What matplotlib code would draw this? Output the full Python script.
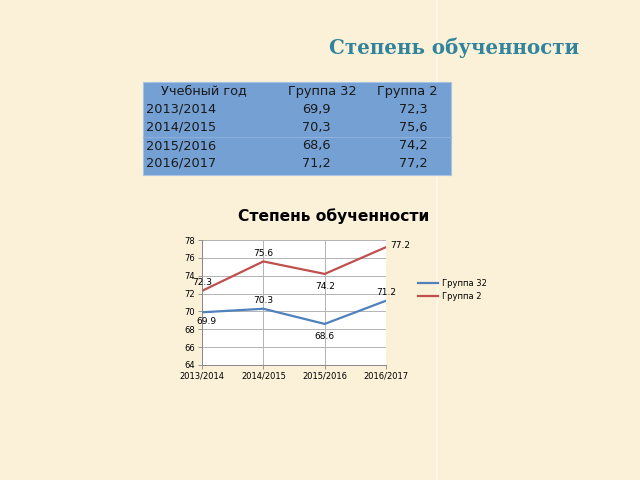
import matplotlib
matplotlib.use("Agg")
import matplotlib.pyplot as plt
from matplotlib.patches import Rectangle
from matplotlib.lines import Line2D

years = ["2013/2014", "2014/2015", "2015/2016", "2016/2017"]
group32 = [69.9, 70.3, 68.6, 71.2]
group2 = [72.3, 75.6, 74.2, 77.2]
table_header = ["Учебный год", "Группа 32", "Группа 2"]
title = "Степень обученности"
yticks = [64, 66, 68, 70, 72, 74, 76, 78]

BG = "#FBF0D8"
fig = plt.figure(figsize=(6.4, 4.8), dpi=100, facecolor=BG)

def fx(px):
    return px / 640.0

def fy(py):
    return 1 - py / 480.0

# faint vertical seam in background
fig.add_artist(Line2D([fx(437), fx(437)], [0, 1], color="#FFF8EA", lw=1.2, zorder=0.2))

# slide title
fig.text(fx(454), fy(48), title, ha="center", va="center", fontsize=14.3,
         fontweight="bold", family="DejaVu Serif", color="#31849B")

# table
fig.add_artist(Rectangle((fx(143), fy(175)), fx(451) - fx(143), fy(82) - fy(175),
                         facecolor="#74A0D4", edgecolor="#A9C3E3", lw=0.8, zorder=1))
fig.add_artist(Line2D([fx(143), fx(451)], [fy(137), fy(137)], color="#8DB1DC", lw=0.8, zorder=1.5))
tfs = 9.3
fig.text(fx(204), fy(91), table_header[0], ha="center", va="center", fontsize=tfs, color="#1a1a1a")
fig.text(fx(322), fy(91), table_header[1], ha="center", va="center", fontsize=tfs, color="#1a1a1a")
fig.text(fx(407), fy(91), table_header[2], ha="center", va="center", fontsize=tfs, color="#1a1a1a")
row_y = [109, 127, 146, 163]
for i, yr in enumerate(years):
    fig.text(fx(146), fy(row_y[i]), yr, ha="left", va="center", fontsize=tfs, color="#1a1a1a")
    fig.text(fx(316), fy(row_y[i]), f"{group32[i]:.1f}".replace(".", ","), ha="center",
             va="center", fontsize=tfs, color="#1a1a1a")
    fig.text(fx(413), fy(row_y[i]), f"{group2[i]:.1f}".replace(".", ","), ha="center",
             va="center", fontsize=tfs, color="#1a1a1a")

# chart
fig.text(fx(334), fy(216), title, ha="center", va="center", fontsize=11.2,
         fontweight="bold", color="black")

ax = fig.add_axes([fx(202), fy(365), fx(386) - fx(202), fy(240) - fy(365)])
ax.set_facecolor("white")
x = list(range(len(years)))
ax.plot(x, group32, color="#4F81BD", lw=1.6, label="Группа 32")
ax.plot(x, group2, color="#C0504D", lw=1.6, label="Группа 2")
ax.set_xlim(0, len(years) - 1)
ax.set_ylim(64, 78)
ax.set_yticks(yticks)
ax.set_xticks(x)
ax.set_xticklabels(years)
ax.tick_params(axis="both", labelsize=6, length=3, width=0.6, color="#888888", pad=2)
ax.grid(True, color="#B3B3B3", lw=0.7)
ax.set_axisbelow(True)
for s in ["top", "right"]:
    ax.spines[s].set_visible(False)
for s in ["left", "bottom"]:
    ax.spines[s].set_color("#888888")
    ax.spines[s].set_linewidth(0.7)

lfs = 6.5
off32 = [(3, -6.5), (0, 6), (0, -9), (0, 6)]
off2 = [(0, 6), (0, 6), (0, -9), (10, 1)]
for i in x:
    ax.annotate(f"{group32[i]}", (i, group32[i]), xytext=off32[i], textcoords="offset points",
                ha="center", va="center", fontsize=lfs, annotation_clip=False)
    ax.annotate(f"{group2[i]}", (i, group2[i]), xytext=off2[i], textcoords="offset points",
                ha="center", va="center", fontsize=lfs, annotation_clip=False)

fig.legend(loc="center left", bbox_to_anchor=(fx(410), fy(290)), frameon=False,
           fontsize=6, handlelength=2.5, handletextpad=0.4, labelspacing=0.5)

fig.savefig("out.png", dpi=100, facecolor=BG)
